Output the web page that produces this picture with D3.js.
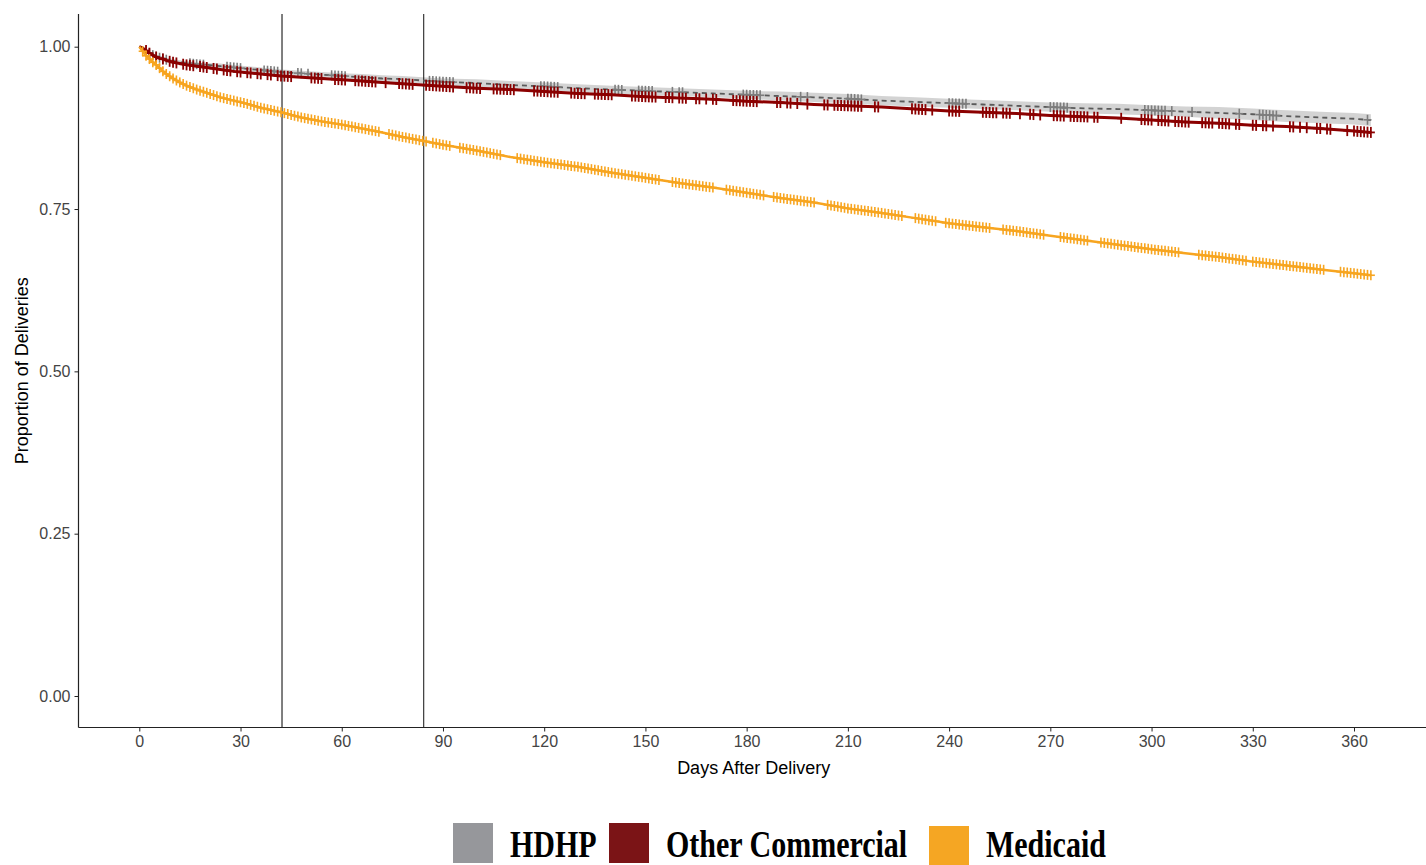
<!DOCTYPE html>
<html>
<head>
<meta charset="utf-8">
<script src="https://cdn.jsdelivr.net/npm/d3@7/dist/d3.min.js"></script>
<style>
  html, body { margin: 0; padding: 0; background: #fff; }
  svg { display: block; }
</style>
</head>
<body>
<svg id="chart" width="1426" height="865"></svg>
<script>
// Kaplan–Meier estimates: proportion of deliveries still at risk by day after delivery
const days = [0,1,2,3,4,5,6,7,8,10,12,14,17,20,24,28,32,36,42,48,54,60,66,72,78,84,90,
  100,110,120,130,140,150,160,170,180,190,200,210,220,230,240,250,260,270,280,290,300,
  310,320,330,340,350,360,365];

const hdhp = [1.000,0.997,0.993,0.990,0.987,0.985,0.983,0.982,0.980,0.978,0.976,0.975,0.973,0.972,0.970,0.968,0.966,0.964,0.961,0.959,0.957,0.955,0.953,0.951,0.950,0.948,0.946,
  0.944,0.941,0.939,0.936,0.934,0.932,0.930,0.928,0.926,0.924,0.922,0.920,0.917,0.915,0.913,0.911,0.909,0.907,0.905,0.904,0.902,
  0.900,0.898,0.896,0.893,0.891,0.889,0.887];
const hdhpLower = [1.000,0.995,0.991,0.987,0.984,0.982,0.980,0.979,0.977,0.975,0.973,0.972,0.970,0.969,0.966,0.964,0.962,0.960,0.957,0.955,0.953,0.951,0.948,0.946,0.945,0.943,0.941,
  0.938,0.935,0.933,0.930,0.928,0.926,0.924,0.922,0.920,0.917,0.915,0.913,0.910,0.908,0.906,0.904,0.902,0.900,0.897,0.896,0.894,
  0.892,0.889,0.887,0.884,0.882,0.880,0.878];
const hdhpUpper = [1.000,0.999,0.995,0.993,0.990,0.988,0.986,0.985,0.983,0.981,0.979,0.978,0.976,0.975,0.974,0.972,0.970,0.968,0.965,0.963,0.961,0.959,0.958,0.956,0.955,0.953,0.951,
  0.950,0.947,0.945,0.942,0.940,0.938,0.936,0.934,0.932,0.931,0.929,0.927,0.924,0.922,0.920,0.918,0.916,0.914,0.913,0.912,0.910,
  0.908,0.907,0.905,0.902,0.900,0.898,0.896];
const otherCommercial = [1.000,0.998,0.994,0.990,0.987,0.984,0.982,0.981,0.979,0.976,0.974,0.972,0.970,0.968,0.965,0.962,0.960,0.958,0.955,0.953,0.951,0.949,0.947,0.945,0.943,0.941,0.939,
  0.936,0.934,0.931,0.928,0.926,0.923,0.921,0.919,0.916,0.914,0.911,0.909,0.907,0.904,0.901,0.899,0.897,0.894,0.892,0.890,0.887,
  0.884,0.882,0.879,0.877,0.874,0.870,0.868];
const medicaid = [1.000,0.993,0.986,0.981,0.976,0.972,0.967,0.962,0.958,0.951,0.945,0.940,0.934,0.929,0.922,0.917,0.912,0.906,0.899,0.891,0.885,0.880,0.874,0.868,0.861,0.855,0.849,
  0.840,0.830,0.822,0.815,0.806,0.798,0.790,0.783,0.775,0.767,0.760,0.751,0.744,0.736,0.728,0.722,0.716,0.709,0.702,0.695,0.688,
  0.682,0.676,0.669,0.663,0.657,0.651,0.648];

// Censoring times (days) shown as "+" marks on each curve
const hdhpCensor = [2,3,4,5,6,7,8,15,16,17,18,19,26,27,28,29,30,37,38,39,40,41,47,48,50,57,58,59,60,61,
  86,87,88,89,90,91,92,93,119,120,121,122,123,124,141,142,143,148,149,150,151,152,158,160,161,
  179,180,181,182,183,184,196,198,210,211,212,213,214,240,241,242,243,244,245,270,271,272,273,274,275,
  298,299,300,301,302,303,304,306,312,326,332,333,334,335,336,337,364];
const otherCommercialCensor = [2,3,5,7,9,10,11,13,14,15,16,18,19,20,22,23,25,26,27,29,30,32,33,35,36,38,39,41,42,
  43,44,45,51,52,53,54,58,59,60,61,64,65,66,67,68,69,70,73,77,78,79,80,81,85,86,87,88,89,90,91,92,93,
  97,98,99,100,101,105,106,107,108,109,110,111,117,118,119,120,121,122,123,124,128,129,130,131,132,
  135,136,137,138,139,140,146,147,148,149,150,151,152,153,156,157,158,160,161,162,165,166,168,170,171,
  176,177,178,179,180,181,182,183,189,190,192,193,195,198,203,204,206,207,208,209,210,211,212,213,214,
  218,219,229,230,231,232,233,235,240,241,242,243,250,251,252,253,254,256,257,258,261,264,265,267,
  271,272,273,274,276,277,278,279,280,281,283,284,291,297,298,299,300,302,303,304,305,307,308,309,310,311,
  315,316,317,318,320,321,322,323,325,326,330,331,333,334,336,341,342,344,346,349,350,352,353,358,360,361,362,363,364,365];
const medicaidCensor = [1,2,3,4,5,6,7,8,9,10,11,12,13,14,15,16,17,18,19,20,21,22,23,24,25,26,27,28,29,30,31,32,33,34,35,36,37,38,39,40,
  41,42,43,44,45,46,47,48,49,50,51,52,53,54,55,56,57,58,59,60,61,62,63,64,65,66,67,68,69,70,71,74,75,76,77,78,79,80,81,82,83,
  84,85,87,88,89,90,91,92,95,96,97,98,99,100,101,102,103,104,105,106,107,112,113,114,115,116,117,118,119,120,121,122,123,124,125,
  126,127,128,129,130,131,132,133,134,135,136,137,138,139,140,141,142,143,144,145,146,147,148,149,150,151,152,153,154,158,159,160,
  161,162,163,164,165,166,167,168,169,170,174,175,176,177,178,179,180,181,182,183,184,185,188,189,190,191,192,193,194,195,196,197,
  198,199,200,204,205,206,207,208,209,210,211,212,213,214,215,216,217,218,219,220,221,222,223,224,225,226,230,231,232,233,234,235,236,
  239,240,241,242,243,244,245,246,247,248,249,250,251,252,256,257,258,259,260,261,262,263,264,265,266,267,268,273,274,275,276,277,
  278,279,280,281,285,286,287,288,289,290,291,292,293,294,295,296,297,298,299,300,301,302,303,304,305,306,307,308,314,315,316,317,
  318,319,320,321,322,323,324,325,326,327,328,330,331,332,333,334,335,336,337,338,339,340,341,342,343,344,345,346,347,348,349,350,351,
  356,357,358,359,360,361,362,363,364,365];

const xTicks = [0,30,60,90,120,150,180,210,240,270,300,330,360];
const yTicks = [0.00,0.25,0.50,0.75,1.00];
const markerDays = [42,84];

const legendLabels = ["HDHP","Other Commercial","Medicaid"];
const legendColors = ["#96979b","#7b1416","#f5a623"];

// ---- layout ----
const svg = d3.select("#chart");
const panel = {left: 78.5, right: 1432, top: 14, bottom: 727.5};

const x = d3.scaleLinear().domain([0, 360]).range([139.3, 1354]);
const y = d3.scaleLinear().domain([0, 1]).range([696, 46.7]);

// linear position of a time on a sampled curve
function valueAt(series, t) {
  const i = d3.bisectRight(days, t);
  if (i <= 0) return series[0];
  if (i >= days.length) return series[series.length - 1];
  const t0 = days[i - 1], t1 = days[i];
  const f = (t - t0) / (t1 - t0);
  return series[i - 1] + f * (series[i] - series[i - 1]);
}

// ---- confidence band for HDHP ----
const band = d3.area()
  .x((d, i) => x(days[i]))
  .y0((d, i) => y(hdhpLower[i]))
  .y1((d, i) => y(hdhpUpper[i]));
svg.append("path")
  .datum(days)
  .attr("d", band)
  .attr("fill", "#c8c8c8")
  .attr("opacity", 0.8);

// ---- vertical reference lines ----
svg.selectAll("line.ref")
  .data(markerDays)
  .join("line")
  .attr("class", "ref")
  .attr("x1", d => x(d) + 1).attr("x2", d => x(d) + 1)
  .attr("y1", panel.top).attr("y2", panel.bottom)
  .attr("stroke", (d, i) => i === 0 ? "#555" : "#111")
  .attr("stroke-width", (d, i) => i === 0 ? 1.5 : 1);

function drawCurve(series, censor, opts) {
  const line = d3.line()
    .x((d, i) => x(days[i]))
    .y(d => y(d));
  svg.append("path")
    .datum(series)
    .attr("d", line)
    .attr("fill", "none")
    .attr("stroke", opts.line)
    .attr("stroke-width", opts.width)
    .attr("stroke-dasharray", opts.dash || null);

  const g = svg.append("g")
    .attr("stroke", opts.mark)
    .attr("stroke-width", opts.markWidth);
  const marks = g.selectAll("g").data(censor).join("g")
    .attr("transform", d => `translate(${x(d)},${y(valueAt(series, d))})`);
  marks.append("line").attr("x1", 0).attr("x2", 0).attr("y1", -opts.markH).attr("y2", opts.markH);
  marks.append("line").attr("x1", -opts.markW).attr("x2", opts.markW).attr("y1", 0).attr("y2", 0);
}

drawCurve(hdhp, hdhpCensor, {line: "#5a5a5a", width: 1.8, dash: "5,4", mark: "#7d7d7d", markWidth: 1.6, markH: 5, markW: 4});
drawCurve(otherCommercial, otherCommercialCensor, {line: "#8b0000", width: 3, mark: "#8b0000", markWidth: 1.8, markH: 5.5, markW: 4});
drawCurve(medicaid, medicaidCensor, {line: "#f7a520", width: 2.5, mark: "#f7a520", markWidth: 1.6, markH: 5, markW: 4});

// ---- axes ----
const axisColor = "#222";
const tickText = "#444";

// left axis
svg.append("line")
  .attr("x1", panel.left).attr("x2", panel.left)
  .attr("y1", panel.top).attr("y2", panel.bottom)
  .attr("stroke", axisColor).attr("stroke-width", 1.2);
const yAxis = d3.axisLeft(y).tickValues(yTicks).tickFormat(d3.format(".2f")).tickSize(4).tickPadding(4);
const gy = svg.append("g").attr("transform", `translate(${panel.left},0)`).call(yAxis);
gy.select(".domain").remove();
gy.selectAll(".tick line").attr("stroke", axisColor);
gy.selectAll(".tick text").attr("fill", tickText)
  .style("font-family", "'Liberation Sans', Arial, sans-serif").style("font-size", "16px");

// bottom axis
svg.append("line")
  .attr("x1", panel.left).attr("x2", panel.right)
  .attr("y1", panel.bottom).attr("y2", panel.bottom)
  .attr("stroke", axisColor).attr("stroke-width", 1.2);
const xAxis = d3.axisBottom(x).tickValues(xTicks).tickFormat(d3.format("d")).tickSize(4).tickPadding(4);
const gx = svg.append("g").attr("transform", `translate(0,${panel.bottom})`).call(xAxis);
gx.select(".domain").remove();
gx.selectAll(".tick line").attr("stroke", axisColor);
gx.selectAll(".tick text").attr("fill", tickText)
  .style("font-family", "'Liberation Sans', Arial, sans-serif").style("font-size", "16px");

// axis titles
svg.append("text")
  .attr("x", (x(0) + x(360)) / 2 + 7).attr("y", 774)
  .attr("text-anchor", "middle")
  .style("font-family", "'Liberation Sans', Arial, sans-serif").style("font-size", "18px")
  .attr("fill", "#000")
  .text("Days After Delivery");
svg.append("text")
  .attr("transform", `translate(28,${(panel.top + panel.bottom) / 2}) rotate(-90)`)
  .attr("text-anchor", "middle")
  .style("font-family", "'Liberation Sans', Arial, sans-serif").style("font-size", "18px")
  .attr("fill", "#000")
  .text("Proportion of Deliveries");

// ---- legend ----
const legendX = [453, 609, 929];
const legendY = [823, 823, 826];
const legend = svg.append("g");
legendLabels.forEach((lab, i) => {
  legend.append("rect")
    .attr("x", legendX[i]).attr("y", legendY[i])
    .attr("width", 40).attr("height", 40)
    .attr("fill", legendColors[i]);
  legend.append("text")
    .attr("transform", `translate(${legendX[i] + 57},857) scale(1,1.28)`)
    .style("font-family", "'Liberation Serif', 'Times New Roman', serif")
    .style("font-weight", "bold").style("font-size", "30px")
    .attr("fill", "#000")
    .text(lab);
});
</script>
</body>
</html>
